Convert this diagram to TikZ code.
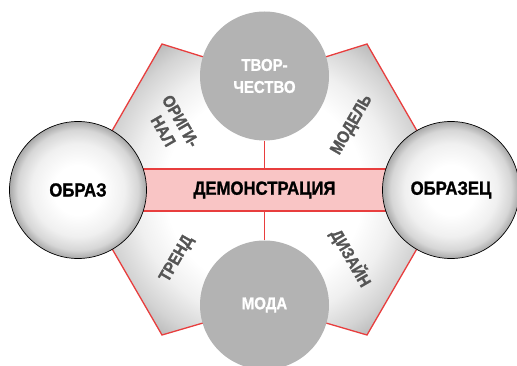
\documentclass[tikz,border=0pt]{standalone}
\usepackage{fontspec}
\setmainfont{Liberation Sans}[FakeStretch=0.88, BoldFeatures={FakeBold=1.2}]
\definecolor{hexred}{RGB}{232,62,62}
\definecolor{bandpink}{RGB}{249,197,197}
\definecolor{labelgray}{RGB}{85,85,85}
\definecolor{discgray}{RGB}{179,179,179}
\pgfdeclareradialshading{hexshade}{\pgfpoint{0bp}{0bp}}{color(0bp)=(white); color(13bp)=(white); color(17bp)=(gray!12); color(21bp)=(gray!34); color(25bp)=(gray!66); color(50bp)=(gray!66)}
\pgfdeclareradialshading{ballshade}{\pgfpoint{0bp}{0bp}}{color(0bp)=(white); color(9bp)=(white); color(17bp)=(gray!12); color(22bp)=(gray!32); color(25bp)=(gray!68); color(50bp)=(gray!68)}
\tikzset{
  redline/.style={draw=hexred, line width=1.3pt},
  sideball/.style={circle, minimum size=137pt, inner sep=0pt, shading=ballshade, draw=black, line width=0.7pt, font=\fontsize{19}{22}\selectfont\bfseries, text=black},
  disc/.style={circle, minimum size=129pt, inner sep=0pt, fill=discgray, font=\fontsize{17}{22}\selectfont\bfseries, text=white, align=center},
  bandbox/.style={rectangle, minimum width=250pt, minimum height=42pt, inner sep=0pt, fill=bandpink, draw=hexred, line width=1.3pt, font=\fontsize{19}{22}\selectfont\bfseries},
  edgelabel/.style={font=\fontsize{17}{20}\selectfont\bfseries, text=labelgray, align=center, inner sep=0pt}
}
\begin{document}
\begin{tikzpicture}[x=1pt,y=-1pt]
\useasboundingbox (0,0) rectangle (517,366);
\coordinate (cL) at (78,190);
\coordinate (cR) at (451,190);
\coordinate (cT) at (264.5,76);
\coordinate (cB) at (264.5,305);
\coordinate (A) at (162,44);
\coordinate (Bc) at (367,44);
\coordinate (C) at (367,335);
\coordinate (D) at (162,335);
\coordinate (hc) at (264.5,190);
\begin{scope}
  \clip (cL) -- (A) -- (cT) -- (Bc) -- (cR) -- (C) -- (cB) -- (D) -- cycle;
  \shade[shading=hexshade] (hc) circle (190pt);
\end{scope}
\draw[redline, line join=miter] (cL) -- (A) -- (cT) -- (Bc) -- (cR) -- (C) -- (cB) -- (D) -- cycle;
\node[bandbox] (band) at (hc) {ДЕМОНСТРАЦИЯ};
\node[disc] (T) at (cT) {ТВОР-\\ЧЕСТВО};
\node[disc] (M) at (cB) {МОДА};
\draw[redline] (T.south) -- (band.north);
\draw[redline] (band.south) -- (M.north);
\node[sideball] (L) at (cL) {ОБРАЗ};
\node[sideball] (R) at (cR) {ОБРАЗЕЦ};
\node[edgelabel, rotate=-60] (orig) at (172,126) {ОРИГИ-\\НАЛ};
\node[edgelabel, rotate=60] (model) at (352,125) {МОДЕЛЬ};
\node[edgelabel, rotate=60] (trend) at (177,259) {ТРЕНД};
\node[edgelabel, rotate=-60] (design) at (351,258) {ДИЗАЙН};
\end{tikzpicture}
\end{document}
